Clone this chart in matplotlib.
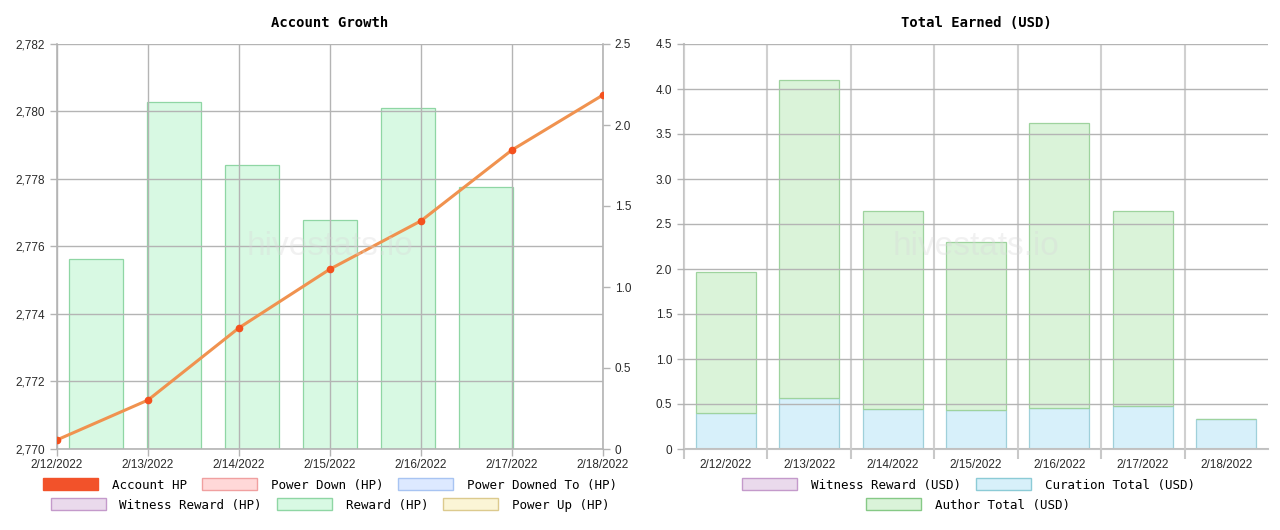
import matplotlib
matplotlib.use("Agg")
import matplotlib.pyplot as plt
from matplotlib.patches import Patch
from matplotlib.ticker import FuncFormatter, FixedLocator
import numpy as np

# data
dates = ["2/12/2022", "2/13/2022", "2/14/2022", "2/15/2022", "2/16/2022", "2/17/2022", "2/18/2022"]
account_hp = [2770.27, 2771.45, 2773.59, 2775.33, 2776.76, 2778.86, 2780.49]
reward_hp = [1.173, 2.142, 1.753, 1.414, 2.105, 1.617, 0.0]
curation_usd = [0.396, 0.563, 0.444, 0.430, 0.452, 0.474, 0.330]
author_usd = [1.567, 3.540, 2.200, 1.867, 3.167, 2.174, 0.0]
witness_usd = [0, 0, 0, 0, 0, 0, 0]

GRID = "#b4b4b4"
TICKFONT = "Liberation Sans"
MONO = "DejaVu Sans Mono"
LABEL = "#2a2a2a"

fig = plt.figure(figsize=(12.8, 5.3), dpi=100)
fig.patch.set_facecolor("white")

# ---------------- left chart: account growth ----------------
ax = fig.add_axes([57/1280, 1-449/530, (603-57)/1280, (449-44)/530])
axr = ax.twinx()
ax.set_zorder(axr.get_zorder() + 1)
ax.patch.set_visible(False)

n = len(dates)
slot = (n - 1) / n
xb = (np.arange(n) + 0.5) * slot
axr.bar(xb, reward_hp, width=0.7 * slot, color="#d8f9e3", edgecolor="#8fd6a4", linewidth=0.9)
axr.set_ylim(0, 2.5)
axr.set_yticks(np.arange(0, 2.51, 0.5))
axr.yaxis.set_major_formatter(FuncFormatter(lambda v, p: "0" if v == 0 else f"{v:.1f}"))

xl = np.arange(n)
ax.plot(xl, account_hp, color="#f0924f", lw=2.2, zorder=3)
ax.plot(xl, account_hp, "o", color="#f4511e", ms=4.5, zorder=4)
ax.set_xlim(0, n - 1)
ax.set_ylim(2770, 2782)
ax.set_yticks(np.arange(2770, 2782.1, 2))
ax.yaxis.set_major_formatter(FuncFormatter(lambda v, p: f"{v:,.0f}"))
ax.set_xticks(xl)
ax.set_xticklabels(dates)
ax.grid(True, color=GRID, lw=1.0)
ax.set_title("Account Growth", fontfamily=MONO, fontweight="bold", fontsize=10, pad=12)

for a in (ax, axr):
    for s in a.spines.values():
        s.set_color(GRID)
        s.set_linewidth(1.2)
    a.spines["top"].set_visible(False)
    a.tick_params(colors=GRID, labelcolor=LABEL, labelsize=8.5, length=5, width=1.0)
    for lab in a.get_xticklabels() + a.get_yticklabels():
        lab.set_fontfamily(TICKFONT)
ax.tick_params(axis="x", pad=2)
axr.spines["left"].set_visible(False)
axr.spines["bottom"].set_visible(False)
ax.spines["right"].set_visible(False)

ax.text(0.5, 0.5, "hivestats.io", transform=ax.transAxes, ha="center", va="center",
        fontsize=24, color="#d9d9d9", alpha=0.35, fontfamily=TICKFONT, zorder=5)

kw = dict(frameon=False, handlelength=4.4, handleheight=1.05, handletextpad=1.1,
          columnspacing=1.2, borderaxespad=0, prop={"family": MONO, "size": 9})
row1 = [Patch(facecolor="#f2522a", edgecolor="#f2522a", label="Account HP"),
        Patch(facecolor="#ffd8d8", edgecolor="#f0a0a0", label="Power Down (HP)"),
        Patch(facecolor="#dde9ff", edgecolor="#a8c4f2", label="Power Downed To (HP)")]
row2 = [Patch(facecolor="#eadaec", edgecolor="#c49acb", label="Witness Reward (HP)"),
        Patch(facecolor="#d8f9e3", edgecolor="#8fd6a4", label="Reward (HP)"),
        Patch(facecolor="#fbf5d6", edgecolor="#dcca8e", label="Power Up (HP)")]
cx = (57 + 603) / 2 / 1280
fig.legend(handles=row1, ncol=3, loc="center", bbox_to_anchor=(cx, 1 - 485/530), **kw)
fig.legend(handles=row2, ncol=3, loc="center", bbox_to_anchor=(cx, 1 - 505/530), **kw)

# ---------------- right chart: total earned ----------------
bx = fig.add_axes([684/1280, 1-449/530, (1268-684)/1280, (449-44)/530])
pos = np.arange(n)
bw = 0.72
bx.bar(pos, witness_usd, width=bw, color="#eadaec", edgecolor="#c49acb", linewidth=0.9)
bx.bar(pos, curation_usd, width=bw, bottom=witness_usd, color="#d7f0fa", edgecolor="#9fd0da", linewidth=0.9)
base = np.array(witness_usd) + np.array(curation_usd)
bx.bar(pos, author_usd, width=bw, bottom=base, color="#daf3d9", edgecolor="#9ed39e", linewidth=0.9)
bx.set_xlim(-0.5, n - 0.5)
bx.set_ylim(0, 4.5)
bx.set_yticks(np.arange(0, 4.51, 0.5))
bx.yaxis.set_major_formatter(FuncFormatter(lambda v, p: "0" if v == 0 else f"{v:.1f}"))
bx.xaxis.set_major_locator(FixedLocator(np.arange(n) - 0.5))
bx.xaxis.set_major_formatter(FuncFormatter(lambda v, p: ""))
bx.set_xticks(pos, minor=True)
bx.set_xticklabels(dates, minor=True)
bx.tick_params(axis="x", which="minor", length=0, pad=7)
bx.grid(True, axis="y", color=GRID, lw=1.0)
bx.grid(True, axis="x", which="major", color="#d0d0d0", lw=1.5)
bx.set_axisbelow(False)
bx.set_title("Total Earned (USD)", fontfamily=MONO, fontweight="bold", fontsize=10, pad=12)
for s in bx.spines.values():
    s.set_color("#c4c4c4")
    s.set_linewidth(1.5)
bx.spines["top"].set_visible(False)
bx.spines["right"].set_visible(False)
bx.tick_params(which="both", colors="#c8c8c8", labelcolor=LABEL, labelsize=8.5, width=1.5)
bx.tick_params(axis="x", which="major", length=7)
bx.tick_params(axis="y", length=5, width=1.0, colors=GRID, labelcolor=LABEL)
for lab in bx.get_xticklabels(minor=True) + bx.get_yticklabels():
    lab.set_fontfamily(TICKFONT)

bx.text(0.5, 0.5, "hivestats.io", transform=bx.transAxes, ha="center", va="center",
        fontsize=24, color="#d9d9d9", alpha=0.35, fontfamily=TICKFONT, zorder=5)

cx2 = (684 + 1268) / 2 / 1280 - 0.006
rrow1 = [Patch(facecolor="#eadaec", edgecolor="#c49acb", label="Witness Reward (USD)"),
         Patch(facecolor="#d7f0fa", edgecolor="#8ccbd6", label="Curation Total (USD)")]
rrow2 = [Patch(facecolor="#daf3d9", edgecolor="#86c986", label="Author Total (USD)")]
fig.legend(handles=rrow1, ncol=2, loc="center", bbox_to_anchor=(cx2, 1 - 485/530), **kw)
fig.legend(handles=rrow2, ncol=1, loc="center", bbox_to_anchor=(cx2, 1 - 505/530), **kw)

fig.savefig("out.png", dpi=100, facecolor="white")
